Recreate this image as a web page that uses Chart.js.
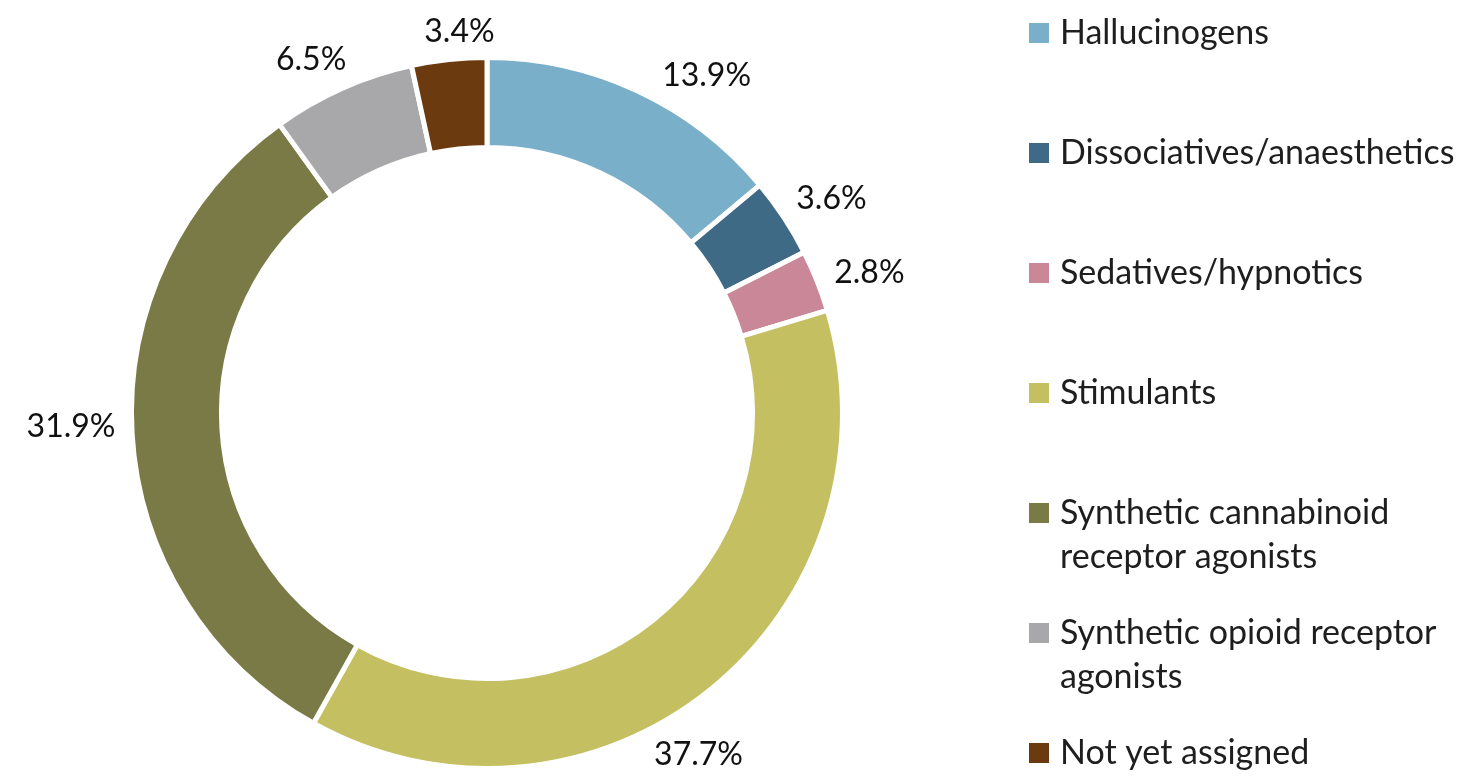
<!DOCTYPE html>
<html>
<head>
<meta charset="utf-8">
<script src="https://cdn.jsdelivr.net/npm/chart.js@4.4.1/dist/chart.umd.min.js"></script>
<style>
  html, body { margin: 0; padding: 0; background: #fff; }
</style>
</head>
<body>
<canvas id="myChart" width="1479" height="778"></canvas>
<script>
// data
var categories = ["Hallucinogens", "Dissociatives/anaesthetics", "Sedatives/hypnotics", "Stimulants",
  "Synthetic cannabinoid receptor agonists", "Synthetic opioid receptor agonists", "Not yet assigned"];
var legendLines = [["Hallucinogens"], ["Dissociatives/anaesthetics"], ["Sedatives/hypnotics"], ["Stimulants"],
  ["Synthetic cannabinoid", "receptor agonists"], ["Synthetic opioid receptor", "agonists"], ["Not yet assigned"]];
var shares = [13.9, 3.6, 2.8, 37.7, 31.9, 6.5, 3.4];
var shareLabels = ["13.9%", "3.6%", "2.8%", "37.7%", "31.9%", "6.5%", "3.4%"];

var colors = ["#7aafc9", "#3e6a85", "#c98797", "#c4c062", "#7a7a46", "#a8a8aa", "#6b3a0f"];
// small angle tweaks (degrees) so the % labels sit where the original put them
var labelNudge = [8, 1.5, 1.7, 7, 1.4, -2.5, 2];

var FONT = "Lato, 'Open Sans', sans-serif";

var outsideLabels = {
  id: "outsideLabels",
  afterDraw: function (chart) {
    var ctx = chart.ctx;
    var meta = chart.getDatasetMeta(0);
    ctx.save();
    ctx.font = "32px " + FONT;
    ctx.fillStyle = "#111";
    ctx.textAlign = "center";
    ctx.textBaseline = "middle";
    meta.data.forEach(function (arc, i) {
      var p = arc.getProps(["x", "y", "startAngle", "endAngle", "outerRadius"], true);
      var mid = (p.startAngle + p.endAngle) / 2 + labelNudge[i] * Math.PI / 180;
      var hw = ctx.measureText(shareLabels[i]).width / 2;
      var hh = 8;
      var r = p.outerRadius + 16 + hw * Math.abs(Math.cos(mid)) + hh * Math.abs(Math.sin(mid));
      ctx.fillText(shareLabels[i], p.x + r * Math.cos(mid), p.y + r * Math.sin(mid));
    });
    ctx.restore();
  }
};

var sideLegend = {
  id: "sideLegend",
  afterDraw: function (chart) {
    var ctx = chart.ctx;
    ctx.save();
    ctx.font = "34px " + FONT;
    ctx.textBaseline = "middle";
    ctx.textAlign = "left";
    for (var i = 0; i < categories.length; i++) {
      var y = 33 + i * 120;
      ctx.fillStyle = colors[i];
      ctx.fillRect(1029, y - 10, 20, 20);
      ctx.fillStyle = "#1e1e1e";
      for (var j = 0; j < legendLines[i].length; j++) {
        ctx.fillText(legendLines[i][j], 1060, y + j * 44);
      }
    }
    ctx.restore();
  }
};

var ctx = document.getElementById("myChart");
var myChart = new Chart(ctx, {
  type: "doughnut",
  data: {
    labels: categories,
    datasets: [
      {
        data: shares,
        backgroundColor: colors,
        borderColor: "#ffffff",
        borderWidth: 5,
      },
    ],
  },
  options: {
    responsive: false,
    animation: false,
    cutout: "74.7%",
    layout: {
      padding: { left: 129, top: 55, right: 634, bottom: 7 },
    },
    plugins: {
      legend: { display: false },
      tooltip: { enabled: false },
    },
  },
  plugins: [outsideLabels, sideLegend],
});
</script>
</body>
</html>
